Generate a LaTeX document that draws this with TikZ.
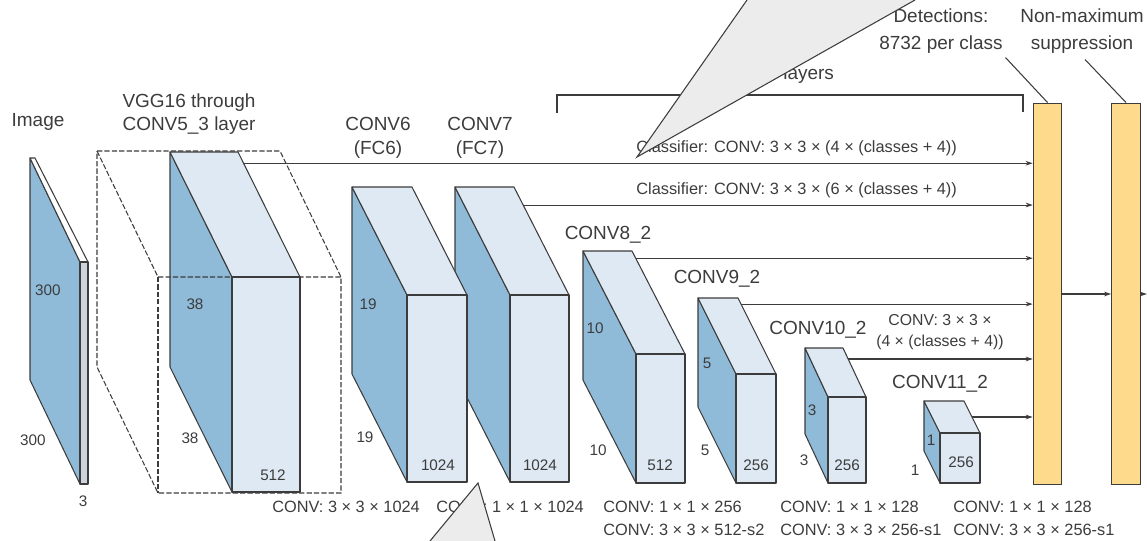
\documentclass[tikz,border=0pt]{standalone}
\usepackage{fontspec}
\setmainfont{Liberation Sans}
\usetikzlibrary{arrows.meta, calc}

\definecolor{sideblue}{RGB}{143,187,217}
\definecolor{faceblue}{RGB}{222,233,243}
\definecolor{slabgray}{RGB}{205,210,220}
\definecolor{baryellow}{RGB}{253,218,140}
\definecolor{inkgray}{RGB}{60,60,60}
\definecolor{calloutgray}{RGB}{236,236,236}

% feature map block: name, x, y, width, height, dx, dy
\newcommand{\featmap}[7]{%
  \filldraw[side] (#2,#3) -- ++(#6,#7) -- ++(0,#5) -- ++(-#6,-#7) -- cycle;
  \filldraw[face] (#2,#3) -- ++(#4,0) -- ++(#6,#7) -- ++(-#4,0) -- cycle;
  \filldraw[face] (#2+#6,#3+#7) rectangle ++(#4,#5);
  \coordinate (#1-tr) at (#2+#4,#3);
  \coordinate (#1-fr) at (#2+#4+#6,#3+#7);
}

\begin{document}
\begin{tikzpicture}[
    x=0.02cm, y=-0.02cm,
    side/.style={fill=sideblue, draw=inkgray, line width=0.6pt, line join=round},
    face/.style={fill=faceblue, draw=inkgray, line width=0.6pt, line join=round},
    outline/.style={draw=inkgray, line width=0.6pt, dash pattern=on 3pt off 1.2pt},
    bar/.style={rectangle, draw=inkgray, fill=baryellow, line width=0.6pt, minimum width=0.57cm, minimum height=7.64cm, inner sep=0pt},
    arrow/.style={-{Stealth[length=4pt, width=2.6pt]}, line width=0.6pt, inkgray},
    thinline/.style={line width=0.6pt, inkgray},
    lbl/.style={font=\fontsize{10.8}{13.5}\selectfont, text=inkgray, inner sep=0pt, align=center},
    num/.style={font=\fontsize{8.7}{10}\selectfont, text=inkgray, inner sep=0pt},
    op/.style={font=\fontsize{9.3}{11}\selectfont, text=inkgray, inner sep=0pt, anchor=west},
]
\useasboundingbox (0,0) rectangle (1147,541);

% Blocks, back to front
\featmap{c11}{924}{401}{40}{50}{16}{32}
\featmap{c10}{805}{348}{38}{86}{23}{49}
\featmap{c9}{698}{298}{40}{109}{38}{76}
\featmap{c8}{583}{251}{49}{129}{53}{103}
\featmap{c7}{455}{187}{59}{187}{55}{108}
\featmap{c6}{352}{187}{60}{187}{55}{108}
\featmap{c43}{170}{152}{68}{215}{62}{125}

% VGG16 outline (dashed)
\draw[outline] (97,151) -- (280,151) -- (341,277) -- (341,493) -- (158,493) -- (97,367) -- cycle;
\draw[outline] (97,151) -- (158,277) -- (341,277);
\draw[outline] (158,277) -- (158,493);

% Input image
\filldraw[side] (30,158) -- (80,262) -- (80,484) -- (30,380) -- cycle;
\filldraw[face, fill=white] (30,158) -- (35,158) -- (88,262) -- (80,262) -- cycle;
\filldraw[face, fill=slabgray] (80,262) rectangle (88,484);

% Detections and NMS
\node[bar] (det) at (1047.5,294) {};
\node[bar] (nms) at (1126,294) {};
\draw[arrow] (det.east) -- (nms.west);
\coordinate (out) at (1147,294);
\draw[arrow] (nms.east) -- (out);
\draw[thinline] (det.north) -- ++(-42,-45);
\draw[thinline] (nms.north) -- ++(-41,-43);

% Classifier connectors
\coordinate (s1) at ($(c43-tr)!0.09!(c43-fr)$);
\coordinate (s2) at ($(c7-tr)!0.167!(c7-fr)$);
\coordinate (s3) at ($(c8-tr)!0.07!(c8-fr)$);
\coordinate (s4) at ($(c9-tr)!0.08!(c9-fr)$);
\coordinate (s5) at ($(c10-tr)!0.224!(c10-fr)$);
\coordinate (s6) at ($(c11-tr)!0.5!(c11-fr)$);
\foreach \s in {s1,s2,s3,s4,s5,s6}
  \draw[arrow] (\s) -- (\s -| det.west);

% Bracket
\draw[thinline] (557,113) -- (557,95) -- (1023,95) -- (1023,112);
\node[lbl, anchor=west] (extra) at (783,75) {layers};

% Labels
\node[lbl] (limage) at (38,122) {Image};
\node[lbl] (lvgg) at (189,114) {VGG16 through\\CONV5\_3 layer};
\node[lbl] (lc6) at (378,138) {CONV6\\(FC6)};
\node[lbl] (lc7) at (480,138) {CONV7\\(FC7)};
\node[lbl] (lc8) at (608,235) {CONV8\_2};
\node[lbl] (lc9) at (717,279) {CONV9\_2};
\node[lbl] (lc10) at (818,330) {CONV10\_2};
\node[lbl] (lc11) at (940,384) {CONV11\_2};
\node[lbl, font=\fontsize{10.8}{15.5}\selectfont] (ldet) at (941,31) {Detections:\\8732 per class};
\node[lbl, font=\fontsize{10.8}{15.5}\selectfont] (lnms) at (1082,31) {Non-maximum\\suppression};

% Classifier texts
\node[op] (cls1) at (636,148) {Classifier: CONV: 3 × 3 × (4 × (classes + 4))};
\node[op] (cls2) at (636,190) {Classifier: CONV: 3 × 3 × (6 × (classes + 4))};
\node[lbl, font=\fontsize{9}{12}\selectfont] (cls5) at (940,332) {CONV: 3 × 3 ×\\(4 × (classes + 4))};

% Block sizes
\node[num] (n1) at (48,290) {300};
\node[num] (n2) at (33,440) {300};
\node[num] (n3) at (83,501) {3};
\node[num] (n4) at (195,304) {38};
\node[num] (n5) at (190,438) {38};
\node[num] (n6) at (273,475) {512};
\node[num] (n7) at (368,304) {19};
\node[num] (n8) at (365,437) {19};
\node[num] (n9) at (438,465) {1024};
\node[num] (n10) at (540,465) {1024};
\node[num] (n11) at (595,328) {10};
\node[num] (n12) at (598,450) {10};
\node[num] (n13) at (660,465) {512};
\node[num] (n14) at (707,363) {5};
\node[num] (n15) at (705,450) {5};
\node[num] (n16) at (756,465) {256};
\node[num] (n17) at (812,410) {3};
\node[num] (n18) at (804,460) {3};
\node[num] (n19) at (847,465) {256};
\node[num] (n20) at (931,440) {1};
\node[num] (n21) at (915,470) {1};
\node[num] (n22) at (961,462) {256};

% Layer ops
\node[op] (o1) at (272,507) {CONV: 3 × 3 × 1024};
\node[op] (o2) at (436,507) {CONV: 1 × 1 × 1024};
\node[op] (o3) at (603,507) {CONV: 1 × 1 × 256};
\node[op] (o4) at (603,530) {CONV: 3 × 3 × 512-s2};
\node[op] (o5) at (780,507) {CONV: 1 × 1 × 128};
\node[op] (o6) at (780,530) {CONV: 3 × 3 × 256-s1};
\node[op] (o7) at (953,507) {CONV: 1 × 1 × 128};
\node[op] (o8) at (953,530) {CONV: 3 × 3 × 256-s1};

% Callout wedges
\fill[calloutgray] (637,157) -- (747,0) -- (915,0) -- cycle;
\draw[thinline] (747,0) -- (637,157) -- (915,0);
\fill[calloutgray] (478,483) -- (430,541) -- (495,541) -- cycle;
\draw[thinline] (430,541) -- (478,483) -- (495,541);
\end{tikzpicture}
\end{document}
